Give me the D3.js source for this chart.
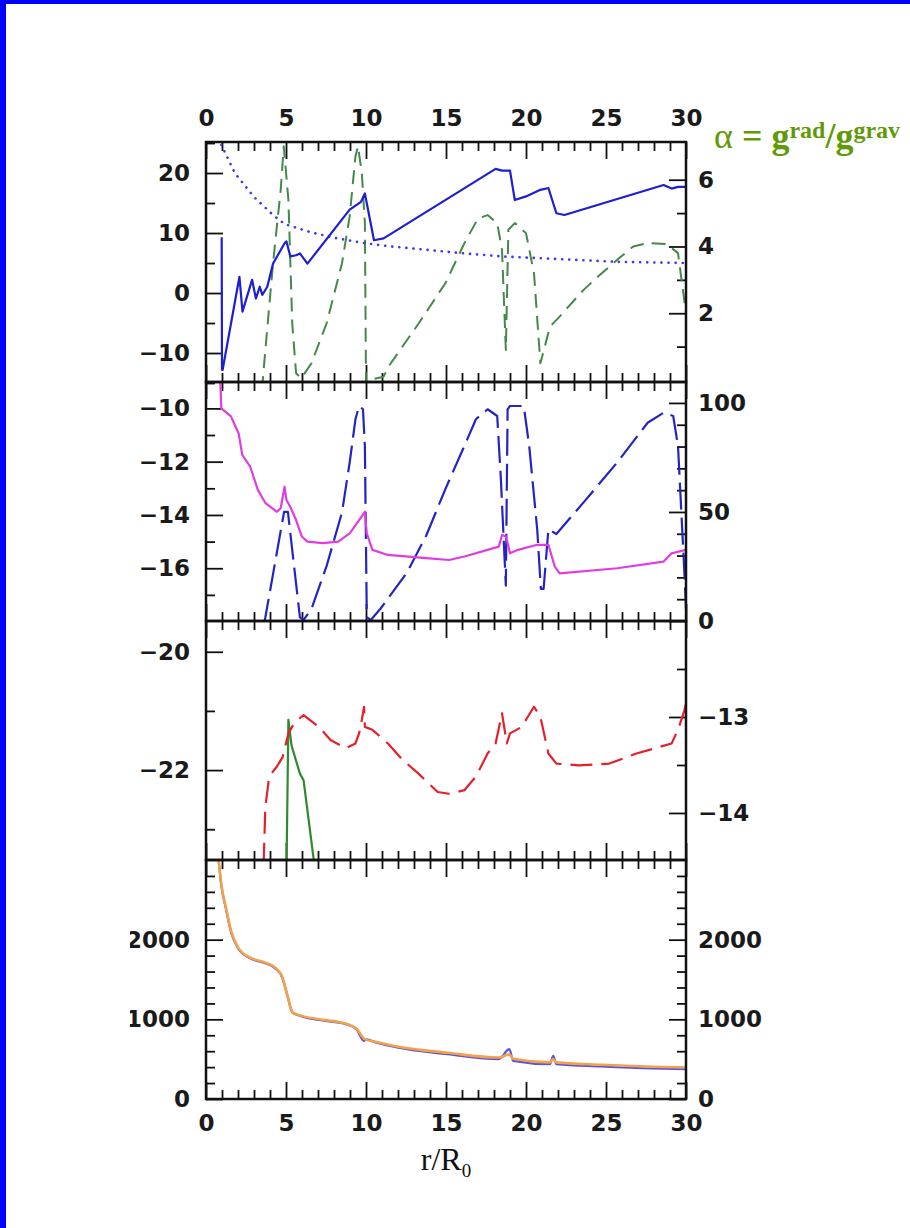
<!DOCTYPE html>
<html><head><meta charset="utf-8">
<script src="https://cdn.jsdelivr.net/npm/d3@7"></script>
<style>html,body{margin:0;padding:0;background:#fff;overflow:hidden}svg{display:block}</style>
</head><body>
<script>
// ---------- DATA ----------
const xTicksMajor = [0,5,10,15,20,25,30];
const xTicksMinor = d3.range(0,31,1);

// Panel 1
const p1Solid = [[0.98,9.3],[1.0,-12.8],[1.04,-12.8],[2.09,2.7],[2.28,-3.1],[2.88,2.2],[3.12,-0.9],[3.36,1.05],[3.52,-0.3],[3.83,1.05],[4.19,4.9],[4.91,8.3],[5.03,8.6],[5.27,6.1],[5.63,6.3],[5.87,6.6],[6.34,4.9],[8.98,13.9],[9.69,15.2],[9.93,16.6],[10.5,8.8],[11.1,9.1],[18.1,20.7],[18.5,20.4],[19.0,20.4],[19.3,15.5],[20.0,16.1],[20.9,17.2],[21.4,17.5],[21.9,13.3],[22.4,13.0],[28.6,18.0],[29.1,17.4],[29.5,17.7],[30.0,17.7]];
const p1Dotted = [[0.96,24.7],[1.8,20.0],[3.0,16.0],[4.19,13.0],[4.91,11.5],[6.59,10.1],[8.02,9.2],[9.93,8.3],[11.4,7.8],[13.8,7.2],[16.15,6.6],[18.5,6.1],[20.9,5.8],[23.3,5.5],[25.7,5.2],[30,5.0]];
const p1Alpha = [[3.5,-0.3],[3.6,0.3],[4.19,3.5],[4.67,5.7],[4.86,7.0],[5.15,5.4],[5.39,1.7],[5.63,0.2],[5.95,0.05],[6.59,0.5],[7.54,1.7],[8.5,3.5],[8.98,4.9],[9.34,6.7],[9.5,7.0],[9.74,6.2],[9.93,4.7],[10.0,-0.1],[10.17,0.0],[11.1,0.1],[11.4,0.4],[13.3,1.7],[14.96,2.9],[16.15,4.1],[17.0,4.84],[17.6,4.94],[18.2,4.7],[18.5,3.9],[18.74,0.9],[18.9,4.5],[19.3,4.7],[20.0,4.4],[20.5,3.2],[20.9,0.5],[21.5,1.6],[22.1,1.9],[23.6,2.7],[24.5,3.1],[25.7,3.6],[26.7,4.0],[27.6,4.1],[28.8,4.07],[29.5,3.8],[30,2.0]];
const p1LeftMajor = [-10,0,10,20], p1LeftMinor = [-15,-5,5,15,25];
const p1RightMajor = [2,4,6], p1RightMinor = [1,3,5];

// Panel 2
const p2Pink = [[0.89,-8.9],[0.96,-10.0],[1.56,-10.3],[2.04,-10.94],[2.27,-11.75],[2.76,-12.19],[3.24,-13.06],[3.72,-13.56],[4.43,-13.88],[4.67,-13.75],[4.91,-12.94],[5.03,-13.44],[5.27,-13.7],[5.63,-14.19],[5.99,-14.81],[6.34,-15.0],[7.3,-15.06],[8.26,-15.0],[8.98,-14.69],[9.57,-14.19],[9.93,-13.88],[10.05,-14.69],[10.4,-15.31],[11.37,-15.5],[13.76,-15.62],[15.19,-15.69],[16.15,-15.56],[17.6,-15.31],[18.3,-15.19],[18.5,-14.75],[18.76,-14.81],[19.0,-15.44],[19.5,-15.31],[20.7,-15.12],[21.4,-15.12],[21.8,-15.94],[22.1,-16.19],[25.7,-16.0],[28.6,-15.75],[29.1,-15.44],[30,-15.31]];
const p2Dashed = [[3.6,-2],[3.71,1.7],[4.88,50],[5.12,50],[5.87,1.7],[6.1,0.5],[6.59,5.5],[7.54,25.3],[8.5,49.8],[8.98,72.7],[9.34,92.5],[9.57,98.6],[9.81,97.1],[9.93,80.3],[10.05,1.7],[10.3,0.5],[10.89,5.5],[12.56,22.2],[13.76,39.1],[14.96,60.5],[16.15,80.3],[16.87,92.5],[17.6,97.1],[18.2,94],[18.43,65.1],[18.74,16.2],[18.85,97],[19.0,98.6],[19.86,98.6],[20.2,80.3],[20.7,42.1],[20.93,14.7],[21.1,14.7],[21.4,42.1],[21.9,39.9],[23.6,54.4],[25.7,72.7],[27.6,90.9],[28.6,95.5],[29.2,94],[29.5,80.3],[29.9,22.2],[30,5.5]];
const p2LeftMajor = [-16,-14,-12,-10], p2LeftMinor = [-17,-15,-13,-11];
const p2RightMajor = [0,50,100], p2RightMinor = [10,20,30,40,60,70,80,90];

// Panel 3
const p3Red = [[3.6,-23.6],[3.71,-22.62],[3.95,-22.11],[4.43,-21.94],[4.79,-21.78],[5.15,-21.38],[5.5,-21.21],[6.1,-21.07],[7.06,-21.27],[7.78,-21.49],[8.74,-21.63],[9.34,-21.55],[9.57,-21.38],[9.74,-21.15],[9.88,-20.93],[9.93,-21.27],[10.4,-21.32],[11.37,-21.55],[12.3,-21.83],[13.28,-22.06],[14.48,-22.37],[15.19,-22.40],[16.15,-22.34],[16.87,-22.11],[17.6,-21.72],[18.1,-21.55],[18.5,-21.04],[18.8,-21.55],[19.0,-21.38],[19.74,-21.27],[20.0,-21.15],[20.5,-20.93],[20.9,-21.1],[21.4,-21.72],[21.9,-21.89],[23.3,-21.92],[25.2,-21.89],[26.9,-21.72],[29.1,-21.55],[29.5,-21.32],[29.9,-20.99],[30,-20.87]];
const p3Green = [[5.03,-14.6],[5.15,-13.03],[5.35,-13.3],[5.87,-13.59],[6.1,-13.66],[6.82,-14.6]];
const p3LeftMajor = [-22,-20], p3LeftMinor = [-23,-21];
const p3RightMajor = [-14,-13], p3RightMinor = [-13.5,-12.5];

// Panel 4
const p4Blue = [[0.7,3200],[0.79,3000],[0.94,2708],[1.26,2375],[1.58,2083],[2.06,1875],[2.7,1771],[3.66,1708],[4.29,1646],[4.77,1521],[5.09,1292],[5.41,1083],[5.89,1042],[7.48,979],[8.75,938],[9.4,875],[9.87,729],[10.0,750],[10.67,708],[11.94,646],[15.1,563],[18.3,500],[18.96,625],[19.2,479],[21.5,437],[21.7,542],[21.9,437],[24.7,408],[27.9,383],[30,375]];
const p4Orange = [[0.7,3200],[0.79,3000],[0.94,2720],[1.26,2390],[1.58,2100],[2.06,1885],[2.7,1780],[3.66,1715],[4.29,1655],[4.77,1530],[5.09,1300],[5.41,1090],[5.89,1050],[7.48,990],[8.75,945],[9.4,885],[9.87,760],[10.0,745],[10.67,715],[11.94,660],[15.1,580],[18.3,520],[18.96,560],[19.2,505],[21.5,460],[21.7,500],[21.9,460],[24.7,430],[27.9,405],[30,395]];
const p4Major = [0,1000,2000], p4Minor = d3.range(200,3000,200).filter(v=>v%1000!==0);

// ---------- LAYOUT ----------
const W = 910, H = 1228;
const X0 = 206, X1 = 686;
const tops = [142,382,621,860], bots = [382,621,860,1099];
const x = d3.scaleLinear().domain([0,30]).range([X0,X1]);

const svg = d3.select("body").append("svg").attr("width",W).attr("height",H);
svg.append("rect").attr("width",W).attr("height",H).attr("fill","#fff");
// blue frame
svg.append("rect").attr("x",0).attr("y",0).attr("width",W).attr("height",4).attr("fill","#0000ff");
svg.append("rect").attr("x",0).attr("y",0).attr("width",6).attr("height",H).attr("fill","#0000ff");

const defs = svg.append("defs");
tops.forEach((t,i)=>{
  defs.append("clipPath").attr("id","clip"+i).append("rect")
    .attr("x",X0).attr("y",t).attr("width",X1-X0).attr("height",bots[i]-t);
});
defs.append("clipPath").attr("id","lblclip").append("rect").attr("x",130).attr("y",0).attr("width",W).attr("height",H);

const yL = [
  d3.scaleLinear().domain([-14.83,25.17]).range([bots[0],tops[0]]),
  d3.scaleLinear().domain([-17.98,-9.01]).range([bots[1],tops[1]]),
  d3.scaleLinear().domain([-23.52,-19.48]).range([bots[2],tops[2]]),
  d3.scaleLinear().domain([0,3000]).range([bots[3],tops[3]])
];
const yR = [
  d3.scaleLinear().domain([-0.06,7.13]).range([bots[0],tops[0]]),
  d3.scaleLinear().domain([0,109.6]).range([bots[1],tops[1]]),
  d3.scaleLinear().domain([-14.49,-12.0]).range([bots[2],tops[2]]),
  d3.scaleLinear().domain([0,3000]).range([bots[3],tops[3]])
];

const FONT = "'DejaVu Sans', sans-serif";
const MAJ = 17, MIN = 9;
const fmt = d3.format("");

function styleAxis(g, showLabels){
  g.select(".domain").remove();
  g.selectAll(".tick line").attr("stroke","#111").attr("stroke-width",1.8);
  g.selectAll("text").attr("font-family",FONT).attr("font-size",23).attr("font-weight","bold").attr("fill","#1a1a1a");
  if(!showLabels) g.selectAll("text").remove();
}

function yAxes(i, lMaj, lMin, rMaj, rMin){
  const outer = svg.append("g");
  if(i===3) outer.attr("clip-path","url(#lblclip)");
  const gl = outer.append("g").attr("transform",`translate(${X0},0)`);
  gl.append("g").call(d3.axisLeft(yL[i]).tickValues(lMaj).tickSizeInner(-MAJ).tickSizeOuter(0).tickPadding(16).tickFormat(fmt)).call(g=>styleAxis(g,true));
  gl.append("g").call(d3.axisLeft(yL[i]).tickValues(lMin).tickSizeInner(-MIN).tickSizeOuter(0)).call(g=>styleAxis(g,false));
  const gr = svg.append("g").attr("transform",`translate(${X1},0)`);
  gr.append("g").call(d3.axisRight(yR[i]).tickValues(rMaj).tickSizeInner(-MAJ).tickSizeOuter(0).tickPadding(12).tickFormat(fmt)).call(g=>styleAxis(g,true));
  gr.append("g").call(d3.axisRight(yR[i]).tickValues(rMin).tickSizeInner(-MIN).tickSizeOuter(0)).call(g=>styleAxis(g,false));
}
yAxes(0,p1LeftMajor,p1LeftMinor,p1RightMajor,p1RightMinor);
yAxes(1,p2LeftMajor,p2LeftMinor,p2RightMajor,p2RightMinor);
yAxes(2,p3LeftMajor,p3LeftMinor,p3RightMajor,p3RightMinor);
yAxes(3,p4Major,p4Minor,p4Major,p4Minor);

// x axes: ticks inward on each panel top and bottom
tops.forEach((t,i)=>{
  const b = bots[i];
  const gt = svg.append("g").attr("transform",`translate(0,${t})`);
  gt.append("g").call(d3.axisTop(x).tickValues(xTicksMajor).tickSizeInner(-MAJ).tickSizeOuter(0).tickPadding(16).tickFormat(fmt)).call(g=>styleAxis(g,i===0));
  gt.append("g").call(d3.axisTop(x).tickValues(xTicksMinor.filter(v=>v%5)).tickSizeInner(-MIN).tickSizeOuter(0)).call(g=>styleAxis(g,false));
  const gb = svg.append("g").attr("transform",`translate(0,${b})`);
  gb.append("g").call(d3.axisBottom(x).tickValues(xTicksMajor).tickSizeInner(-MAJ).tickSizeOuter(0).tickPadding(16).tickFormat(fmt)).call(g=>styleAxis(g,i===3));
  gb.append("g").call(d3.axisBottom(x).tickValues(xTicksMinor.filter(v=>v%5)).tickSizeInner(-MIN).tickSizeOuter(0)).call(g=>styleAxis(g,false));
});

// ---------- LINES ----------
function drawLine(i, data, yScale, color, width, dash, cap, curve){
  const line = d3.line().x(d=>x(d[0])).y(d=>yScale(d[1])).curve(curve||d3.curveLinear);
  svg.append("path").attr("clip-path",`url(#clip${i})`)
    .attr("d",line(data)).attr("fill","none").attr("stroke",color)
    .attr("stroke-width",width).attr("stroke-linejoin","round")
    .attr("stroke-linecap",cap||"butt")
    .attr("stroke-dasharray",dash||null);
}
drawLine(0,p1Alpha,yR[0],"#44884a",2,"14,8");
drawLine(0,p1Dotted,yL[0],"#3a3ae6",2.6,"0.1,7","round");
drawLine(0,p1Solid,yL[0],"#1e1ed2",2.2);

drawLine(1,p2Dashed,yR[1],"#2424c4",2.2,"27,8");
drawLine(1,p2Pink,yL[1],"#e03de0",2.2);

drawLine(2,p3Green,yR[2],"#2e8a2e",2.2);
drawLine(2,p3Red,yL[2],"#e4202c",2.2,"22,9");

drawLine(3,p4Blue,yL[3],"#5a52e0",2.2,null,null,d3.curveMonotoneX);
drawLine(3,p4Orange,yL[3],"#f2a24a",2.6,null,null,d3.curveMonotoneX);

// ---------- FRAMES ----------
tops.forEach((t,i)=>{
  svg.append("rect").attr("x",X0).attr("y",t).attr("width",X1-X0).attr("height",bots[i]-t)
    .attr("fill","none").attr("stroke","#111").attr("stroke-width",2.5);
});

// ---------- TEXT ----------
const xl = svg.append("text").attr("x",446).attr("y",1170).attr("text-anchor","middle")
  .attr("font-family","'Liberation Serif', serif").attr("font-size",32).attr("fill","#111");
xl.append("tspan").text("r/R");
xl.append("tspan").attr("font-size",19).attr("dy",7).text("0");

const tt = svg.append("text").attr("x",714).attr("y",148)
  .attr("font-family","'Liberation Serif', serif").attr("font-size",36).attr("fill","#609a06");
tt.append("tspan").text("α");
tt.append("tspan").attr("dx",9).attr("font-weight","bold").text("=");
tt.append("tspan").attr("dx",9).attr("font-weight","bold").text("g");
tt.append("tspan").attr("font-weight","bold").attr("font-size",24).attr("dy",-10).text("rad");
tt.append("tspan").attr("font-weight","bold").attr("dy",10).text("/g");
tt.append("tspan").attr("font-weight","bold").attr("font-size",24).attr("dy",-10).text("grav");
</script>
</body></html>
